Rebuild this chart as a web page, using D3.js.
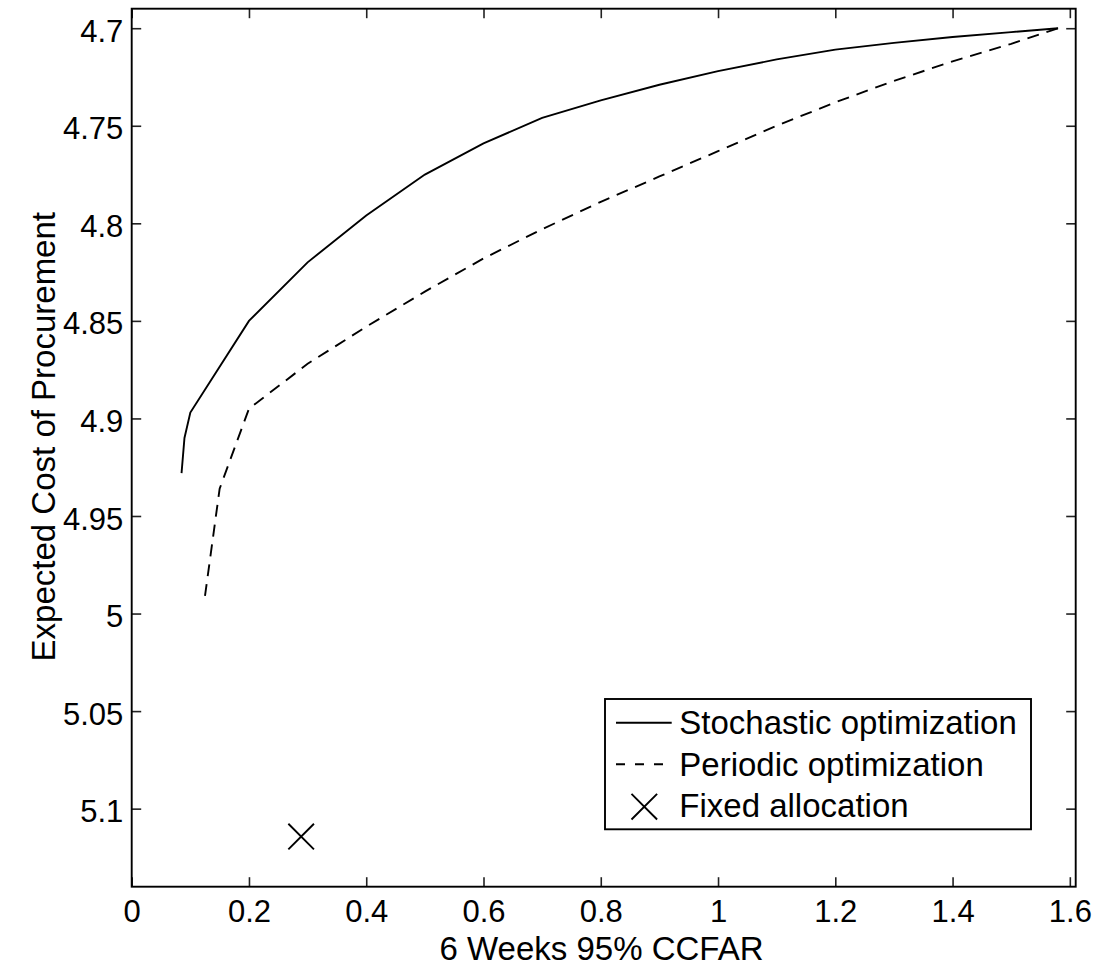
<!DOCTYPE html>
<html>
<head>
<meta charset="utf-8">
<script src="https://cdn.jsdelivr.net/npm/d3@7"></script>
<style>
  html, body { margin: 0; padding: 0; background: #fff; }
  svg { display: block; font-family: "Liberation Sans", Arial, Helvetica, sans-serif; }
</style>
</head>
<body>
<svg id="chart"></svg>
<script>
// series
const stochasticX = [0.085, 0.09, 0.1, 0.2, 0.3, 0.4, 0.5, 0.6, 0.7, 0.8, 0.9, 1.0, 1.1, 1.2, 1.3, 1.4, 1.5, 1.58];
const stochasticY = [4.928, 4.910, 4.897, 4.850, 4.820, 4.796, 4.775, 4.759, 4.746, 4.737, 4.729, 4.722, 4.716, 4.711, 4.7075, 4.7045, 4.702, 4.700];

const periodicX = [0.125, 0.15, 0.2, 0.3, 0.4, 0.5, 0.6, 0.7, 0.8, 0.9, 1.0, 1.1, 1.2, 1.3, 1.4, 1.5, 1.58];
const periodicY = [4.991, 4.936, 4.895, 4.872, 4.853, 4.835, 4.818, 4.803, 4.789, 4.776, 4.763, 4.750, 4.738, 4.727, 4.717, 4.708, 4.700];

const fixedX = [0.289];
const fixedY = [5.1143];

const xTicks = [0, 0.2, 0.4, 0.6, 0.8, 1, 1.2, 1.4, 1.6];
const yTicks = [4.7, 4.75, 4.8, 4.85, 4.9, 4.95, 5, 5.05, 5.1];

const legendLabels = ["Stochastic optimization", "Periodic optimization", "Fixed allocation"];

const WIDTH = 1104;
const HEIGHT = 976;
const margin = { top: 8.7, right: 28.3, bottom: 89.3, left: 131.7 };
const iwidth = WIDTH - margin.left - margin.right;
const iheight = HEIGHT - margin.top - margin.bottom;
const TICK_FONT = 31;
const LABEL_FONT = 33;
const LW = 1.9;
const DASH = "12,8";

const svg = d3.select("#chart").attr("width", WIDTH).attr("height", HEIGHT);

const x = d3.scaleLinear().domain([0, 1.61]).range([0, iwidth]);
// reversed y axis, 4.7 near the top
const y = d3.scaleLinear().domain([4.69, 5.14]).range([0, iheight]);

const g = svg.append("g").attr("transform", `translate(${margin.left},${margin.top})`);

const fmt = (d) => String(d);

// axes with inward ticks, mirrored on top/right like a matlab box
g.append("g")
  .attr("transform", `translate(0,${iheight})`)
  .call(d3.axisBottom(x).tickValues(xTicks).tickFormat(fmt).tickSize(-9.5).tickPadding(13))
  .call((a) => {
    a.select(".domain").remove();
    a.selectAll("text").attr("font-size", TICK_FONT).attr("fill", "#000").attr("font-family", null);
  });

g.append("g")
  .call(d3.axisTop(x).tickValues(xTicks).tickFormat("").tickSize(-9.5))
  .call((a) => a.select(".domain").remove());

g.append("g")
  .call(d3.axisLeft(y).tickValues(yTicks).tickFormat(fmt).tickSize(-9.5).tickPadding(8.4))
  .call((a) => {
    a.select(".domain").remove();
    a.selectAll("text").attr("font-size", TICK_FONT).attr("fill", "#000").attr("dy", "0.42em").attr("font-family", null);
  });

g.append("g")
  .attr("transform", `translate(${iwidth},0)`)
  .call(d3.axisRight(y).tickValues(yTicks).tickFormat("").tickSize(-9.5))
  .call((a) => a.select(".domain").remove());

g.selectAll(".tick line").attr("stroke", "#222").attr("stroke-width", 1.6);

// box
g.append("rect")
  .attr("width", iwidth)
  .attr("height", iheight)
  .attr("fill", "none")
  .attr("stroke", "#000")
  .attr("stroke-width", LW);

const line = d3.line()
  .x((d) => x(d[0]))
  .y((d) => y(d[1]));

g.append("path")
  .attr("d", line(d3.zip(stochasticX, stochasticY)))
  .attr("fill", "none")
  .attr("stroke", "#000")
  .attr("stroke-width", LW);

g.append("path")
  .attr("d", line(d3.zip(periodicX, periodicY)))
  .attr("fill", "none")
  .attr("stroke", "#000")
  .attr("stroke-width", LW)
  .attr("stroke-dasharray", DASH);

// X marker as two strokes
function drawCross(sel, cx, cy, h) {
  sel.append("path")
    .attr("d", `M${cx - h},${cy - h}L${cx + h},${cy + h}M${cx - h},${cy + h}L${cx + h},${cy - h}`)
    .attr("fill", "none")
    .attr("stroke", "#000")
    .attr("stroke-width", LW);
}
fixedX.forEach((fx, i) => drawCross(g, x(fx), y(fixedY[i]), 12.8));

// axis labels
svg.append("text")
  .attr("x", 601.5)
  .attr("y", 960)
  .attr("text-anchor", "middle")
  .attr("font-size", LABEL_FONT)
  .text("6 Weeks 95% CCFAR");

svg.append("text")
  .attr("transform", "translate(55,436.7) rotate(-90)")
  .attr("text-anchor", "middle")
  .attr("font-size", LABEL_FONT)
  .text("Expected Cost of Procurement");

// legend
const legend = svg.append("g");
legend.append("rect")
  .attr("x", 605)
  .attr("y", 699)
  .attr("width", 426)
  .attr("height", 130.3)
  .attr("fill", "#fff")
  .attr("stroke", "#000")
  .attr("stroke-width", LW);

const rowY = [722.7, 764.2, 805.7];
legend.append("line")
  .attr("x1", 616).attr("x2", 671.7)
  .attr("y1", rowY[0]).attr("y2", rowY[0])
  .attr("stroke", "#000").attr("stroke-width", LW);
legend.append("line")
  .attr("x1", 616).attr("x2", 671.7)
  .attr("y1", rowY[1]).attr("y2", rowY[1])
  .attr("stroke", "#000").attr("stroke-width", LW)
  .attr("stroke-dasharray", "9,10");
drawCross(legend, 644.3, rowY[2] + 1, 12.8);

legend.selectAll("text")
  .data(legendLabels)
  .join("text")
  .attr("x", 679.3)
  .attr("y", (d, i) => rowY[i] + 11.5)
  .attr("font-size", LABEL_FONT)
  .text((d) => d);
</script>
</body>
</html>
